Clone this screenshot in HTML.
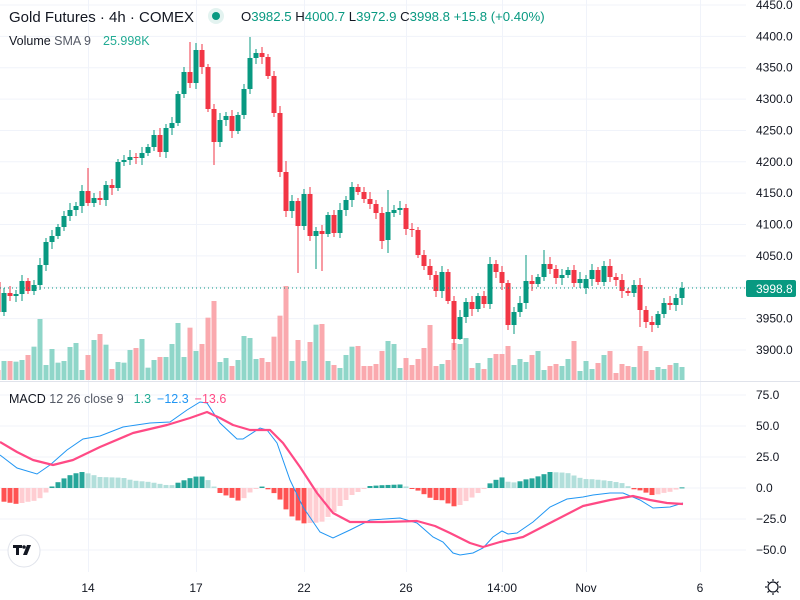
<!DOCTYPE html>
<html><head><meta charset="utf-8"><style>
html,body{margin:0;padding:0;background:#fff;}
svg{display:block;font-family:"Liberation Sans","DejaVu Sans",sans-serif;}
</style></head><body>
<svg id="s" width="800" height="600" viewBox="0 0 800 600" xmlns="http://www.w3.org/2000/svg">
<rect width="800" height="600" fill="#fff"/>
<g id="grid"></g>
<g id="vol"></g>
<g id="cnd"></g>
<g id="hist"></g>
<g id="lines"></g>
<line x1="0" y1="288" x2="746" y2="288" stroke="#089981" stroke-width="1" stroke-dasharray="1,3"/>
<line x1="0" y1="381.5" x2="800" y2="381.5" stroke="#e0e3eb" stroke-width="1"/>
<!-- header -->
<text x="9" y="22" font-size="15" fill="#131722">Gold Futures · 4h · COMEX</text>
<circle cx="216" cy="16" r="8" fill="#e3f3f0"/>
<circle cx="216" cy="16" r="4" fill="#089981"/>
<text x="241" y="21" font-size="13.2" fill="#131722">O<tspan fill="#089981">3982.5</tspan> H<tspan fill="#089981">4000.7</tspan> L<tspan fill="#089981">3972.9</tspan> C<tspan fill="#089981">3998.8 +15.8 (+0.40%)</tspan></text>
<text x="9" y="45" font-size="12.5" fill="#131722">Volume <tspan fill="#555a66">SMA 9</tspan><tspan dx="12" fill="#22ab94">25.998K</tspan></text>
<text x="9" y="403" font-size="12.5" fill="#131722">MACD <tspan fill="#555a66">12 26 close 9</tspan><tspan dx="10" fill="#22ab94">1.3</tspan><tspan dx="6" fill="#2196f3">−12.3</tspan><tspan dx="6" fill="#ff4a85">−13.6</tspan></text>
<!-- axis labels -->
<g id="axis" font-size="12" fill="#131722"></g>
<rect x="746" y="280" width="50" height="17" rx="2" fill="#089981"/>
<text x="756" y="293" font-size="12" fill="#fff">3998.8</text>
<g font-size="12" fill="#131722" text-anchor="middle">
<text x="88" y="592">14</text><text x="196" y="592">17</text><text x="304" y="592">22</text><text x="406" y="592">26</text><text x="502" y="592">14:00</text><text x="586" y="592">Nov</text><text x="700" y="592">6</text>
</g>
<!-- logo -->
<circle cx="24" cy="551" r="16" fill="#fff" stroke="#e0e3eb"/>
<path d="M13 545h9v3h-3v7h-3v-7h-3z M23 555l4-10h4l-4 10z" fill="#131722"/>
<circle cx="24" cy="547" r="1.8" fill="#131722"/>
<!-- gear -->
<circle cx="773" cy="587" r="5" fill="none" stroke="#131722" stroke-width="1.2"/>
<g stroke="#131722" stroke-width="1.2"><line x1="773" y1="579" x2="773" y2="581"/><line x1="773" y1="593" x2="773" y2="595"/><line x1="765" y1="587" x2="767" y2="587"/><line x1="779" y1="587" x2="781" y2="587"/><line x1="767.5" y1="581.5" x2="769" y2="583"/><line x1="777" y1="591" x2="778.5" y2="592.5"/><line x1="778.5" y1="581.5" x2="777" y2="583"/><line x1="769" y1="591" x2="767.5" y2="592.5"/></g>
</svg>
<script>
(function(){
var NS="http://www.w3.org/2000/svg";
function el(p,t,a){var e=document.createElementNS(NS,t);for(var k in a)e.setAttribute(k,a[k]);document.getElementById(p).appendChild(e);return e;}
[88,196,304,406,502,586,700].forEach(function(x){el("grid","line",{x1:x+.5,y1:0,x2:x+.5,y2:572,stroke:"#f0f3fa"});});
for(var k=0;k<12;k++){var y=5+k*31.36;el("grid","line",{x1:0,y1:y,x2:746,y2:y,stroke:"#f0f3fa"});
 var t=el("axis","text",{x:756,y:y+4});t.textContent=(4450-k*50).toFixed(1);}
[75,50,25,0,-25,-50].forEach(function(v){var y=488-v*1.24;el("grid","line",{x1:0,y1:y,x2:746,y2:y,stroke:"#f0f3fa"});
 var t=el("axis","text",{x:756,y:y+4});t.textContent=(v<0?"−":"")+Math.abs(v).toFixed(1);});
var C=[312,293,296,294,281,291,285,265,242,236,227,216,210,206,191,203,198,200,185,188,162,160,157,158,153,147,135,152,128,123,94,72,83,50,67,109,142,120,116,131,115,89,58,53,57,76,113,172,211,201,226,194,236,231,234,215,233,210,200,187,192,199,204,213,241,212,210,208,229,230,255,266,275,291,272,301,339,317,302,309,296,304,264,272,283,325,312,303,281,284,277,264,269,278,275,270,283,279,279,270,282,266,277,280,291,293,285,310,322,325,314,303,305,298,288];
var O=C.map(function(c,i){return i==0?282:C[i-1];});
O[98]=288;O[59]=200;O[66]=213;O[65]=240;
var HI={0:266,15:168,32:42,33:43,42:37,48:161,59:182,65:190,88:255,91:250};
var LO={36:165,50:273,53:269,54:271,64:249,65:253,76:350,85:330,86:334,77:340,107:327,110:328};
var V2=[993,993,995,990,975,950,867,1005,957,998,993,951,939,1020,975,930,912,944,1017,996,998,960,954,927,1013,990,981,981,942,879,981,893,963,942,863,813,996,984,1008,990,918,924,987,984,996,920,857,768,993,930,993,936,884,882,993,1005,1014,975];
var V3=[590,588,648,648,642,603,573,582,654,624,645,627,594,525,648,642,630,579,582,564,654,639,657,624,612,612,588,645,627,636,615,603,660,648,642,648,627,573,663,633,657,639,615,603,669,642,648,651,588,603,660,651,657,645,639,651];
var VT=[370].concat(V2.map(function(v){return 30+v/3;}),V3.map(function(v){return 150+v/3;}));
for(var i=0;i<C.length;i++){
 var x=6*i-2,o=O[i],c=C[i],up=c<=o,col=up?"#089981":"#f23645";
 var bt=Math.min(o,c),bb=Math.max(o,c);if(bb-bt<1)bb=bt+1;
 var hi=HI[i]!==undefined?HI[i]:bt-3-(i*7%5),lo=LO[i]!==undefined?LO[i]:bb+3+(i*11%5);
 var vt=VT[i]||370;
 el("vol","rect",{x:x-2.5,y:vt,width:5,height:380-vt,fill:up?"#8fd6c9":"#faa9ae"});
 el("cnd","line",{x1:x,y1:hi,x2:x,y2:lo,stroke:col,"stroke-width":1});
 el("cnd","rect",{x:x-2.5,y:bt,width:5,height:bb-bt,fill:col});
}
var B=[[0,455],[17,468],[37,474],[50,465],[67,450],[83,439],[100,436],[123,427],[150,423],[170,422],[187,410],[200,402],[207,403],[220,423],[237,439],[243,439],[260,428],[267,430],[277,443],[290,480],[303,507],[320,532],[333,538],[350,530],[370,520],[400,518],[417,523],[433,537],[443,542],[453,553],[460,555],[473,553],[483,548],[493,537],[502,531],[508,534],[517,533],[533,522],[550,507],[567,499],[583,497],[593,495],[610,493],[623,493],[640,500],[653,508],[670,507],[683,503]];
var P=[[0,442],[17,452],[33,460],[53,465],[73,460],[100,447],[133,433],[167,425],[190,418],[207,412],[220,418],[233,425],[250,430],[270,430],[283,443],[300,467],[317,493],[333,513],[350,522],[383,522],[417,521],[435,526],[450,533],[470,543],[483,547],[500,542],[523,537],[550,523],[583,506],[610,500],[633,496],[650,500],[667,503],[683,504]];
function interp(a,x){for(var j=1;j<a.length;j++){if(x<=a[j][0]){var t=(x-a[j-1][0])/(a[j][0]-a[j-1][0]);return a[j-1][1]+t*(a[j][1]-a[j-1][1]);}}return a[a.length-1][1];}
var prev=null;
for(var i=0;i<C.length;i++){var x=6*i-2;if(x<0)continue;
 var h=-(interp(B,x)-interp(P,x));var col;
 if(h>=0)col=(prev!==null&&h<prev)?"#b2dfdb":"#26a69a";else col=(prev!==null&&h>prev)?"#ffcdd2":"#ff5252";
 prev=h;var y1=488-h;
 el("hist","rect",{x:x-2.5,y:Math.min(488,y1),width:5,height:Math.max(1,Math.abs(h)),fill:col});}
function pts(a){return a.map(function(p){return p.join(",");}).join(" ");}
el("lines","polyline",{points:pts(B),fill:"none",stroke:"#2196f3","stroke-width":1});
el("lines","polyline",{points:pts(P),fill:"none",stroke:"#ff4a85","stroke-width":2.2,"stroke-linejoin":"round"});
})();
</script>
</body></html>
